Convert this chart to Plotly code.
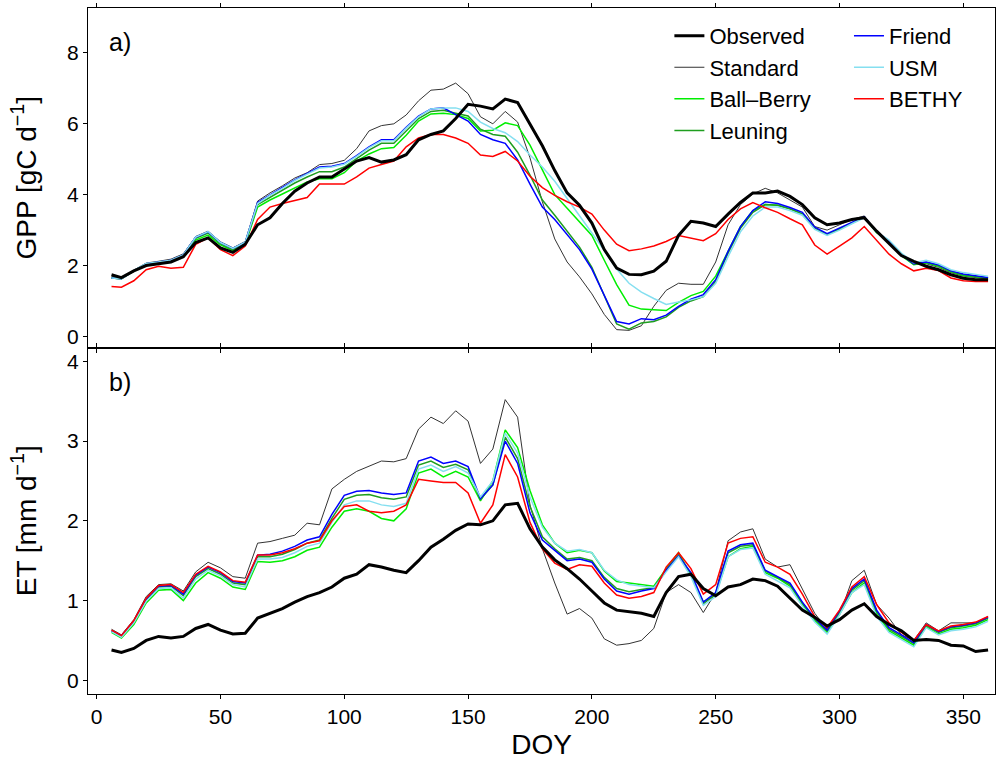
import plotly.graph_objects as go
from plotly.subplots import make_subplots

# Day of year (5-day sampling of the smoothed daily series)
doy = [6] + list(range(10, 361, 5))

# ---- GPP [gC d-1] ----
gpp_observed = [1.74, 1.66, 1.85, 2.0, 2.05, 2.1, 2.25, 2.65, 2.78, 2.5, 2.37, 2.6,
                3.15, 3.35, 3.75, 4.1, 4.33, 4.5, 4.5, 4.72, 4.95, 5.05, 4.92, 4.98,
                5.13, 5.55, 5.7, 5.8, 6.15, 6.55, 6.5, 6.42, 6.7, 6.6, 5.98, 5.38,
                4.68, 4.05, 3.7, 3.2, 2.45, 1.93, 1.75, 1.74, 1.84, 2.12, 2.85, 3.25,
                3.2, 3.1, 3.45, 3.78, 4.05, 4.05, 4.1, 3.95, 3.72, 3.35, 3.15, 3.2,
                3.3, 3.35, 2.97, 2.62, 2.28, 2.12, 1.98, 1.88, 1.74, 1.64, 1.6, 1.6]
gpp_standard = [1.7, 1.65, 1.87, 2.07, 2.12, 2.18, 2.33, 2.82, 2.97, 2.67, 2.5, 2.68,
                3.82, 4.05, 4.25, 4.47, 4.62, 4.85, 4.88, 4.97, 5.3, 5.8, 5.95, 6.0,
                6.25, 6.65, 6.95, 6.98, 7.15, 6.85, 6.2, 6.0, 6.35, 6.05, 5.04, 3.8,
                2.75, 2.1, 1.68, 1.2, 0.62, 0.19, 0.17, 0.3, 0.85, 1.3, 1.5, 1.47,
                1.47, 2.1, 3.15, 3.72, 4.02, 4.18, 4.05, 3.85, 3.65, 3.1, 3.0, 3.15,
                3.3, 3.4, 2.93, 2.65, 2.28, 2.1, 2.05, 1.95, 1.8, 1.7, 1.65, 1.62]
gpp_ballberry = [1.65, 1.63, 1.84, 2.03, 2.07, 2.1, 2.25, 2.72, 2.86, 2.58, 2.42, 2.6,
                 3.65, 3.85, 4.02, 4.2, 4.36, 4.45, 4.45, 4.62, 4.95, 5.15, 5.3, 5.33,
                 5.68, 6.08, 6.28, 6.3, 6.26, 6.15, 5.8, 5.82, 6.03, 5.95, 5.4, 4.7,
                 4.0, 3.62, 3.25, 2.85, 2.15, 1.46, 0.88, 0.77, 0.75, 0.73, 0.96, 1.15,
                 1.27, 1.7, 2.4, 3.1, 3.55, 3.72, 3.7, 3.6, 3.45, 3.05, 2.88, 3.02,
                 3.2, 3.36, 2.93, 2.68, 2.28, 2.02, 2.08, 1.98, 1.82, 1.72, 1.68, 1.64]
gpp_leuning = [1.65, 1.63, 1.85, 2.04, 2.08, 2.12, 2.28, 2.77, 2.92, 2.62, 2.45, 2.63,
               3.72, 3.93, 4.12, 4.33, 4.5, 4.65, 4.65, 4.78, 5.02, 5.26, 5.45, 5.45,
               5.8, 6.15, 6.35, 6.38, 6.3, 6.22, 5.85, 5.7, 5.65, 5.2, 4.55, 3.85,
               3.42, 2.98, 2.52, 1.95, 1.15, 0.35, 0.2, 0.38, 0.42, 0.55, 0.82, 1.0,
               1.12, 1.55, 2.35, 3.05, 3.5, 3.72, 3.7, 3.6, 3.46, 3.05, 2.88, 3.03,
               3.2, 3.37, 2.94, 2.69, 2.3, 2.04, 2.09, 2.0, 1.84, 1.74, 1.7, 1.65]
gpp_friend = [1.65, 1.63, 1.85, 2.05, 2.1, 2.15, 2.3, 2.8, 2.95, 2.65, 2.48, 2.65,
              3.78, 4.0, 4.2, 4.42, 4.6, 4.78, 4.8, 4.88, 5.1, 5.35, 5.55, 5.55,
              5.9, 6.22, 6.42, 6.45, 6.26, 6.08, 5.7, 5.55, 5.45, 4.98, 4.3, 3.65,
              3.3, 2.88, 2.45, 1.9, 1.15, 0.42, 0.35, 0.5, 0.47, 0.6, 0.85, 1.05,
              1.18, 1.6, 2.4, 3.1, 3.55, 3.8, 3.75, 3.64, 3.5, 3.08, 2.9, 3.05,
              3.22, 3.38, 2.95, 2.7, 2.3, 2.05, 2.1, 2.02, 1.85, 1.76, 1.72, 1.66]
gpp_usm = [1.65, 1.63, 1.86, 2.06, 2.1, 2.15, 2.3, 2.8, 2.96, 2.65, 2.48, 2.66,
           3.75, 3.98, 4.18, 4.4, 4.58, 4.75, 4.78, 4.86, 5.08, 5.33, 5.52, 5.52,
           5.88, 6.2, 6.42, 6.45, 6.45, 6.35, 6.05, 5.87, 5.75, 5.5, 5.12, 4.78,
           4.38, 3.9, 3.4, 2.92, 2.42, 1.9, 1.5, 1.25, 1.07, 0.9, 0.97, 1.03,
           1.12, 1.5, 2.25, 2.95, 3.4, 3.65, 3.65, 3.55, 3.42, 3.02, 2.85, 3.0,
           3.18, 3.35, 2.95, 2.72, 2.35, 2.08, 2.15, 2.05, 1.88, 1.8, 1.75, 1.7]
gpp_bethy = [1.41, 1.39, 1.57, 1.88, 1.98, 1.92, 1.95, 2.6, 2.78, 2.45, 2.28, 2.55,
             3.3, 3.65, 3.75, 3.83, 3.92, 4.3, 4.3, 4.3, 4.5, 4.75, 4.85, 4.95,
             5.35, 5.6, 5.7, 5.7, 5.6, 5.45, 5.12, 5.08, 5.22, 4.95, 4.52, 4.2,
             3.98, 3.8, 3.65, 3.45, 3.0, 2.6, 2.42, 2.47, 2.55, 2.68, 2.85, 2.78,
             2.7, 2.9, 3.3, 3.6, 3.78, 3.63, 3.5, 3.32, 3.15, 2.58, 2.32, 2.55,
             2.78, 3.1, 2.7, 2.32, 2.05, 1.85, 1.92, 1.86, 1.65, 1.57, 1.55, 1.55]

# ---- ET [mm d-1] ----
et_observed = [0.38, 0.35, 0.4, 0.5, 0.55, 0.53, 0.55, 0.65, 0.7, 0.63, 0.58, 0.59,
               0.78, 0.84, 0.9, 0.98, 1.05, 1.1, 1.17, 1.28, 1.33, 1.45, 1.42, 1.38,
               1.35, 1.5, 1.67, 1.77, 1.88, 1.96, 1.95, 2.0, 2.2, 2.22, 1.9, 1.67,
               1.51, 1.4, 1.27, 1.12, 0.97, 0.88, 0.86, 0.84, 0.8, 1.1, 1.3, 1.33,
               1.15, 1.06, 1.17, 1.2, 1.27, 1.25, 1.18, 1.03, 0.88, 0.79, 0.68, 0.76,
               0.88, 0.96, 0.8, 0.7, 0.62, 0.5, 0.51, 0.5, 0.44, 0.43, 0.36, 0.38]
et_standard = [0.64, 0.57, 0.76, 1.05, 1.2, 1.21, 1.12, 1.36, 1.48, 1.41, 1.3, 1.28,
               1.72, 1.74, 1.78, 1.82, 1.97, 1.95, 2.4, 2.52, 2.62, 2.68, 2.75, 2.74,
               2.78, 3.15, 3.3, 3.22, 3.38, 3.25, 2.72, 2.9, 3.52, 3.3, 2.2, 1.65,
               1.22, 0.83, 0.9, 0.78, 0.52, 0.44, 0.46, 0.5, 0.65, 1.1, 1.2, 1.1,
               0.85, 1.1, 1.75, 1.86, 1.9, 1.52, 1.42, 1.45, 1.15, 0.84, 0.64, 0.82,
               1.25, 1.38, 0.95, 0.78, 0.57, 0.5, 0.72, 0.62, 0.72, 0.72, 0.72, 0.8]
et_ballberry = [0.6, 0.53, 0.7, 0.97, 1.13, 1.14, 1.0, 1.22, 1.35, 1.28, 1.17, 1.14,
                1.49, 1.48, 1.5, 1.55, 1.63, 1.67, 1.92, 2.12, 2.15, 2.12, 2.03, 2.0,
                2.15, 2.6, 2.65, 2.55, 2.62, 2.55, 2.25, 2.5, 3.14, 2.92, 2.38, 1.95,
                1.72, 1.6, 1.63, 1.6, 1.37, 1.24, 1.22, 1.2, 1.18, 1.4, 1.6, 1.32,
                0.98, 1.08, 1.55, 1.65, 1.68, 1.35, 1.28, 1.18, 0.95, 0.75, 0.6, 0.83,
                1.1, 1.22, 0.83, 0.62, 0.53, 0.44, 0.67, 0.58, 0.64, 0.66, 0.69, 0.76]
et_leuning = [0.62, 0.55, 0.73, 1.01, 1.17, 1.18, 1.06, 1.3, 1.4, 1.33, 1.22, 1.2,
              1.55, 1.55, 1.58, 1.64, 1.72, 1.76, 2.03, 2.27, 2.32, 2.33, 2.29, 2.27,
              2.3, 2.7, 2.75, 2.67, 2.71, 2.64, 2.27, 2.45, 3.05, 2.78, 2.18, 1.8,
              1.65, 1.52, 1.54, 1.5, 1.29, 1.15, 1.11, 1.14, 1.16, 1.38, 1.57, 1.33,
              0.96, 1.08, 1.6, 1.68, 1.7, 1.37, 1.29, 1.2, 0.97, 0.77, 0.62, 0.85,
              1.13, 1.25, 0.86, 0.64, 0.55, 0.46, 0.69, 0.6, 0.66, 0.68, 0.71, 0.78]
et_friend = [0.62, 0.56, 0.74, 1.02, 1.18, 1.19, 1.08, 1.32, 1.42, 1.35, 1.24, 1.22,
             1.57, 1.58, 1.62, 1.68, 1.76, 1.8, 2.08, 2.32, 2.37, 2.38, 2.35, 2.33,
             2.35, 2.75, 2.8, 2.72, 2.75, 2.68, 2.28, 2.45, 3.0, 2.72, 2.1, 1.76,
             1.63, 1.5, 1.52, 1.48, 1.27, 1.12, 1.08, 1.12, 1.15, 1.38, 1.56, 1.35,
             0.98, 1.1, 1.62, 1.7, 1.72, 1.38, 1.3, 1.22, 0.98, 0.78, 0.63, 0.87,
             1.15, 1.27, 0.88, 0.66, 0.57, 0.47, 0.7, 0.61, 0.67, 0.69, 0.72, 0.79]
et_usm = [0.61, 0.54, 0.72, 0.99, 1.15, 1.16, 1.03, 1.27, 1.38, 1.31, 1.2, 1.17,
          1.52, 1.52, 1.54, 1.6, 1.68, 1.72, 1.98, 2.2, 2.25, 2.25, 2.2, 2.18,
          2.22, 2.65, 2.7, 2.62, 2.68, 2.6, 2.3, 2.5, 3.1, 2.85, 2.3, 1.92,
          1.72, 1.62, 1.64, 1.6, 1.38, 1.26, 1.2, 1.18, 1.16, 1.36, 1.55, 1.3,
          0.94, 1.05, 1.55, 1.64, 1.66, 1.33, 1.25, 1.16, 0.93, 0.73, 0.58, 0.82,
          1.1, 1.2, 0.8, 0.6, 0.51, 0.42, 0.66, 0.57, 0.62, 0.64, 0.67, 0.74]
et_bethy = [0.63, 0.56, 0.75, 1.03, 1.19, 1.2, 1.1, 1.33, 1.43, 1.36, 1.25, 1.23,
            1.57, 1.57, 1.6, 1.65, 1.72, 1.75, 2.0, 2.18, 2.2, 2.12, 2.1, 2.12,
            2.2, 2.52, 2.5, 2.48, 2.48, 2.35, 1.97, 2.2, 2.83, 2.55, 1.98, 1.65,
            1.47, 1.39, 1.45, 1.43, 1.22, 1.07, 1.03, 1.05, 1.1, 1.42, 1.6, 1.4,
            1.08, 1.2, 1.72, 1.78, 1.8, 1.48, 1.42, 1.33, 1.08, 0.8, 0.66, 0.88,
            1.17, 1.3, 0.95, 0.72, 0.6, 0.5, 0.7, 0.62, 0.68, 0.7, 0.73, 0.8]

x_ticks = [0, 50, 100, 150, 200, 250, 300, 350]
gpp_ticks = [0, 2, 4, 6, 8]
et_ticks = [0, 1, 2, 3, 4]

FONT = "Liberation Sans, Arial, Helvetica, sans-serif"

# name, colour, width, legend column, legend rank, GPP series, ET series
# (models first so the observed curve is drawn on top)
series = [
    ("Standard", "#333333", 1.0, "legend", 2, gpp_standard, et_standard),
    ("Ball\u2013Berry", "#00ee00", 1.5, "legend", 3, gpp_ballberry, et_ballberry),
    ("Leuning", "#1f9e1f", 1.5, "legend", 4, gpp_leuning, et_leuning),
    ("Friend", "#0000ff", 1.5, "legend2", 5, gpp_friend, et_friend),
    ("USM", "#85dff0", 1.5, "legend2", 6, gpp_usm, et_usm),
    ("BETHY", "#ff0000", 1.5, "legend2", 7, gpp_bethy, et_bethy),
    ("Observed", "#000000", 3.0, "legend", 1, gpp_observed, et_observed),
]

fig = make_subplots(rows=2, cols=1, shared_xaxes=True, vertical_spacing=0,
                    row_heights=[0.495, 0.505])

# GPP panel (carries the legend entries)
for name, color, width, leg, rank, gpp, et in series:
    fig.add_trace(go.Scatter(x=doy, y=gpp, mode="lines", name=name,
                             line=dict(color=color, width=width),
                             legend=leg, legendrank=rank), row=1, col=1)

# ET panel
for name, color, width, leg, rank, gpp, et in series:
    fig.add_trace(go.Scatter(x=doy, y=et, mode="lines", name=name,
                             line=dict(color=color, width=width),
                             showlegend=False), row=2, col=1)

axis_common = dict(showline=True, linecolor="black", linewidth=1, mirror=True,
                   ticks="outside", ticklen=4, tickcolor="black", tickwidth=1,
                   showgrid=False, zeroline=False,
                   tickfont=dict(family=FONT, size=21, color="black"))

fig.update_xaxes(range=[-3.5, 362.8], tickvals=x_ticks, **axis_common)
fig.update_xaxes(showticklabels=False, mirror="ticks", row=1, col=1)
fig.update_xaxes(mirror="ticks", ticktext=[str(v) for v in x_ticks],
                 title=dict(text="DOY", font=dict(family=FONT, size=28, color="black"),
                            standoff=8),
                 row=2, col=1)

fig.update_yaxes(**axis_common)
fig.update_yaxes(range=[-0.316, 9.27], tickvals=gpp_ticks,
                 title=dict(text="GPP [gC d<sup>\u22121</sup>]",
                            font=dict(family=FONT, size=28, color="black"),
                            standoff=22),
                 row=1, col=1)
fig.update_yaxes(range=[-0.172, 4.173], tickvals=et_ticks,
                 title=dict(text="ET [mm d<sup>\u22121</sup>]",
                            font=dict(family=FONT, size=28, color="black"),
                            standoff=22),
                 row=2, col=1)

fig.add_annotation(text="a)", xref="x domain", yref="y domain", x=0.021, y=0.9,
                   xanchor="left", yanchor="middle", showarrow=False,
                   font=dict(family=FONT, size=25, color="black"))
fig.add_annotation(text="b)", xref="x2 domain", yref="y2 domain", x=0.021, y=0.9,
                   xanchor="left", yanchor="middle", showarrow=False,
                   font=dict(family=FONT, size=25, color="black"))

legend_style = dict(bgcolor="rgba(0,0,0,0)", borderwidth=0,
                    font=dict(family=FONT, size=22, color="black"),
                    xanchor="left", yanchor="top", tracegroupgap=0,
                    traceorder="normal")
fig.update_layout(
    width=997, height=760,
    margin=dict(l=88, r=2, t=8, b=66, autoexpand=False),
    paper_bgcolor="white", plot_bgcolor="white",
    font=dict(family=FONT, color="black"),
    legend=dict(x=0.641, y=0.99, **legend_style),
    legend2=dict(x=0.839, y=0.99, **legend_style),
)

fig.write_html("out.html")
